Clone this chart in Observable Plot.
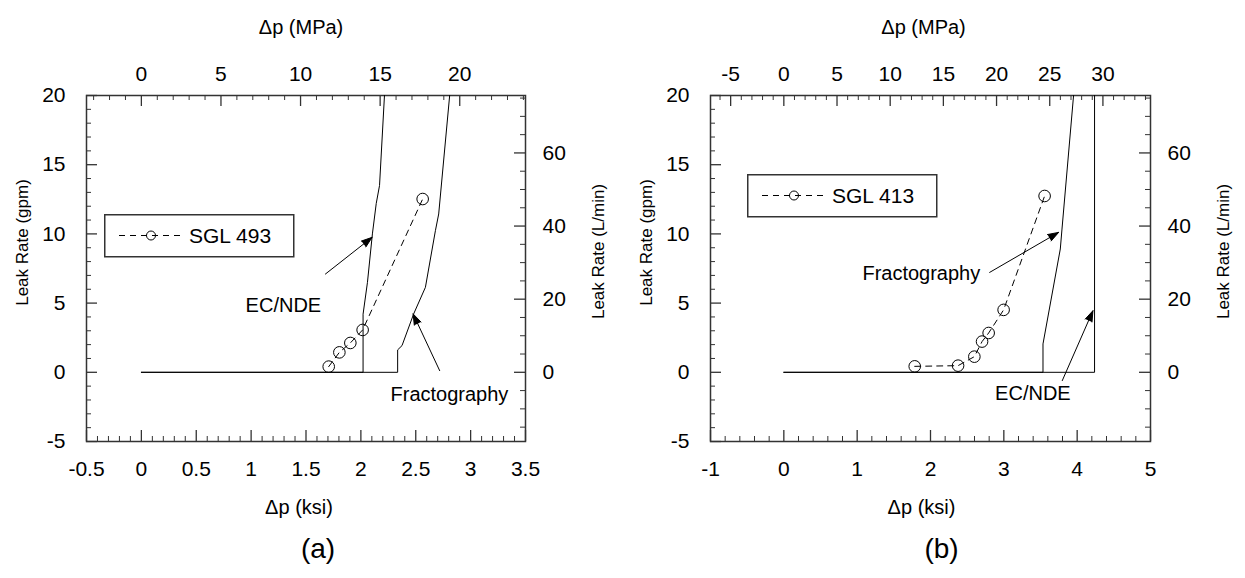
<!DOCTYPE html>
<html><head><meta charset="utf-8">
<script src="https://cdn.jsdelivr.net/npm/d3@7"></script>
<script src="https://cdn.jsdelivr.net/npm/@observablehq/plot@0.6"></script>
<style>
body{margin:0;background:#fff;}
#wrap{position:relative;width:1245px;height:578px;display:flex;overflow:hidden;}
#wrap svg{display:block;}
.legend{position:absolute;}
</style></head><body><div id="wrap"></div>
<script>
// ---------- unit conversions ----------
const KSI_TO_MPA = 6.894757;
const GPM_TO_LPM = 3.785411784;

// ---------- tick labels ----------
const ksiTicksA = [-0.5, 0, 0.5, 1, 1.5, 2, 2.5, 3, 3.5];
const mpaTicksA = [0, 5, 10, 15, 20];
const ksiTicksB = [-1, 0, 1, 2, 3, 4, 5];
const mpaTicksB = [-5, 0, 5, 10, 15, 20, 25, 30];
const gpmTicks = [-5, 0, 5, 10, 15, 20];
const lpmTicks = [0, 20, 40, 60];

// ---------- panel (a) data ----------
const a_ecnde_ksi = [0, 2.02, 2.02, 2.06, 2.105, 2.14, 2.17, 2.215];
const a_ecnde_gpm = [0, 0, 4.2, 6.5, 10.0, 12.2, 13.5, 20];
const a_frac_ksi = [0, 2.335, 2.335, 2.375, 2.481, 2.588, 2.679, 2.709, 2.809];
const a_frac_gpm = [0, 0, 1.62, 1.93, 4.22, 6.14, 10.23, 11.44, 20];
const a_sgl_ksi = [1.707, 1.804, 1.904, 2.016, 2.563];
const a_sgl_gpm = [0.41, 1.44, 2.12, 3.06, 12.52];
const a_label_text = ["EC/NDE", "Fractography"];
const a_label_ksi = [1.294, 2.807];
const a_label_gpm = [4.81, -1.61];
const a_arrow_x1 = [1.677, 2.718];
const a_arrow_y1 = [7.10, 0.12];
const a_arrow_x2 = [2.102, 2.476];
const a_arrow_y2 = [9.75, 4.22];

// ---------- panel (b) data ----------
const b_ecnde_ksi = [0, 4.237, 4.237];
const b_ecnde_gpm = [0, 0, 20];
const b_frac_ksi = [0, 3.534, 3.534, 3.77, 3.793, 3.951];
const b_frac_gpm = [0, 0, 2.05, 8.91, 10.35, 20];
const b_sgl_ksi = [1.785, 2.376, 2.598, 2.703, 2.793, 2.997, 3.556];
const b_sgl_gpm = [0.43, 0.48, 1.13, 2.22, 2.84, 4.51, 12.74];
const b_label_text = ["Fractography", "EC/NDE"];
const b_label_ksi = [1.875, 3.396];
const b_label_gpm = [7.10, -1.56];
const b_arrow_x1 = [2.807, 3.797];
const b_arrow_y1 = [7.22, -0.6];
const b_arrow_x2 = [3.747, 4.215];
const b_arrow_y2 = [10.11, 4.45];

const FONT = "'Liberation Sans', Arial, Helvetica, sans-serif";
const ZIP = (xs, ys) => xs.map((x, i) => ({x, y: ys[i]}));

function panel(cfg) {
  const W = cfg.width, H = 578, mt = 95, mb = 137, ml = cfg.ml, mr = cfg.mr;
  const fh = H - mt - mb, fw = W - ml - mr;
  const MIN = 5, MAJ = 11;
  const ink = "#333";
  const arrows = cfg.ax1.map((x1, i) => ({x1, y1: cfg.ay1[i], x2: cfg.ax2[i], y2: cfg.ay2[i]}));
  const labels = cfg.lt.map((t, i) => ({t, x: cfg.lx[i], y: cfg.ly[i]}));
  return Plot.plot({
    width: W, height: H,
    marginTop: mt, marginBottom: mb, marginLeft: ml, marginRight: mr,
    x: {domain: cfg.xdom, axis: null},
    y: {domain: [-5, 20], axis: null},
    style: {fontFamily: FONT, fontSize: "21px", background: "#fff", color: "#000", overflow: "visible"},
    marks: [
      // ticks (inward)
      Plot.ruleX(cfg.botMinor, {x: d => d, insetTop: fh - MIN, stroke: ink}),
      Plot.ruleX(cfg.botMajor, {x: d => d, insetTop: fh - MAJ, stroke: ink, strokeWidth: 1.3}),
      Plot.ruleX(cfg.topMinor, {x: d => d / KSI_TO_MPA, insetBottom: fh - MIN, stroke: ink}),
      Plot.ruleX(cfg.topMajor, {x: d => d / KSI_TO_MPA, insetBottom: fh - MAJ, stroke: ink, strokeWidth: 1.3}),
      Plot.ruleY(d3.range(-5, 21).filter(v => v % 5 !== 0), {y: d => d, insetRight: fw - MIN, stroke: ink}),
      Plot.ruleY(gpmTicks, {y: d => d, insetRight: fw - MAJ, stroke: ink, strokeWidth: 1.3}),
      Plot.ruleY(d3.range(-15, 76, 5).filter(v => v % 20 !== 0), {y: d => d / GPM_TO_LPM, insetLeft: fw - MIN, stroke: ink}),
      Plot.ruleY(lpmTicks, {y: d => d / GPM_TO_LPM, insetLeft: fw - MAJ, stroke: ink, strokeWidth: 1.3}),
      Plot.frame({stroke: ink, strokeWidth: 1.5}),
      // tick labels
      Plot.text(cfg.ksiTicks, {x: d => d, text: d => String(d), frameAnchor: "bottom", dy: 34}),
      Plot.text(cfg.mpaTicks, {x: d => d / KSI_TO_MPA, text: d => String(d), frameAnchor: "top", dy: -29}),
      Plot.text(gpmTicks, {y: d => d, text: d => String(d), frameAnchor: "left", textAnchor: "end", dx: -21}),
      Plot.text(lpmTicks, {y: d => d / GPM_TO_LPM, text: d => String(d), frameAnchor: "right", textAnchor: "start", dx: 17}),
      // axis titles
      Plot.text(["\u0394p (ksi)"], {frameAnchor: "bottom", dy: 72, dx: cfg.tdx, fontSize: 20}),
      Plot.text(["\u0394p (MPa)"], {frameAnchor: "top", dy: -76, dx: cfg.tdx + 2, fontSize: 20}),
      Plot.text([cfg.tag], {frameAnchor: "bottom", dy: 116, dx: cfg.tagdx, fontSize: 28}),
      Plot.text(["Leak Rate (gpm)"], {frameAnchor: "left", textAnchor: "middle", rotate: -90, dx: -64, dy: -26, fontSize: 17}),
      Plot.text(["Leak Rate (L/min)"], {frameAnchor: "right", textAnchor: "middle", rotate: -90, dx: 73, dy: -17, fontSize: 17}),
      // data
      Plot.line(ZIP(cfg.ecK, cfg.ecG), {x: "x", y: "y", stroke: "#000", strokeWidth: 1, curve: "linear"}),
      Plot.line(ZIP(cfg.frK, cfg.frG), {x: "x", y: "y", stroke: "#000", strokeWidth: 1, curve: "linear"}),
      Plot.line(ZIP(cfg.sK, cfg.sG), {x: "x", y: "y", stroke: "#000", strokeWidth: 1, strokeDasharray: "6,5"}),
      Plot.dot(ZIP(cfg.sK, cfg.sG), {x: "x", y: "y", r: 5.8, stroke: "#000", strokeWidth: 1, fill: "none"}),
      // annotations
      Plot.arrow(arrows, {x1: "x1", y1: "y1", x2: "x2", y2: "y2", stroke: "#000", fill: "#000", strokeWidth: 1, headLength: 17, headAngle: 38}),
      Plot.text(labels, {x: "x", y: "y", text: "t", fontSize: 20})
    ]
  });
}

function legend(left, top, label) {
  const ns = "http://www.w3.org/2000/svg";
  const s = d3.create("svg").attr("xmlns", ns).attr("class", "legend")
    .attr("width", 192).attr("height", 45)
    .style("left", left + "px").style("top", top + "px");
  s.append("rect").attr("x", 0.75).attr("y", 0.75).attr("width", 189).attr("height", 42)
    .attr("fill", "#fff").attr("stroke", "#333").attr("stroke-width", 1.5);
  s.append("line").attr("x1", 15).attr("x2", 80).attr("y1", 21.5).attr("y2", 21.5)
    .attr("stroke", "#000").attr("stroke-dasharray", "6,5");
  s.append("circle").attr("cx", 47).attr("cy", 21.5).attr("r", 4.5)
    .attr("fill", "none").attr("stroke", "#000");
  s.append("text").attr("x", 85).attr("y", 29).attr("font-family", FONT).attr("font-size", 21)
    .attr("fill", "#000").text(label);
  return s.node();
}

const wrap = document.getElementById("wrap");
wrap.append(panel({
  width: 623, ml: 86, mr: 98, xdom: [-0.5, 3.5],
  botMinor: d3.range(-5, 36).filter(i => i % 5 !== 0).map(i => i / 10),
  botMajor: ksiTicksA,
  topMinor: d3.range(-3, 25).filter(v => v % 5 !== 0),
  topMajor: mpaTicksA,
  ksiTicks: ksiTicksA, mpaTicks: mpaTicksA, tdx: -7, tag: "(a)", tagdx: 12,
  ecK: a_ecnde_ksi, ecG: a_ecnde_gpm, frK: a_frac_ksi, frG: a_frac_gpm,
  sK: a_sgl_ksi, sG: a_sgl_gpm,
  ax1: a_arrow_x1, ay1: a_arrow_y1, ax2: a_arrow_x2, ay2: a_arrow_y2,
  lt: a_label_text, lx: a_label_ksi, ly: a_label_gpm
}));
wrap.append(panel({
  width: 622, ml: 87, mr: 95, xdom: [-1, 5],
  botMinor: d3.range(-5, 26).filter(i => i % 5 !== 0).map(i => i / 5),
  botMajor: ksiTicksB,
  topMinor: d3.range(-6, 35).filter(v => v % 5 !== 0),
  topMajor: mpaTicksB,
  ksiTicks: ksiTicksB, mpaTicks: mpaTicksB, tdx: -9, tag: "(b)", tagdx: 11,
  ecK: b_ecnde_ksi, ecG: b_ecnde_gpm, frK: b_frac_ksi, frG: b_frac_gpm,
  sK: b_sgl_ksi, sG: b_sgl_gpm,
  ax1: b_arrow_x1, ay1: b_arrow_y1, ax2: b_arrow_x2, ay2: b_arrow_y2,
  lt: b_label_text, lx: b_label_ksi, ly: b_label_gpm
}));
wrap.append(legend(104, 214, "SGL 493"));
wrap.append(legend(747, 174, "SGL 413"));
</script></body></html>
